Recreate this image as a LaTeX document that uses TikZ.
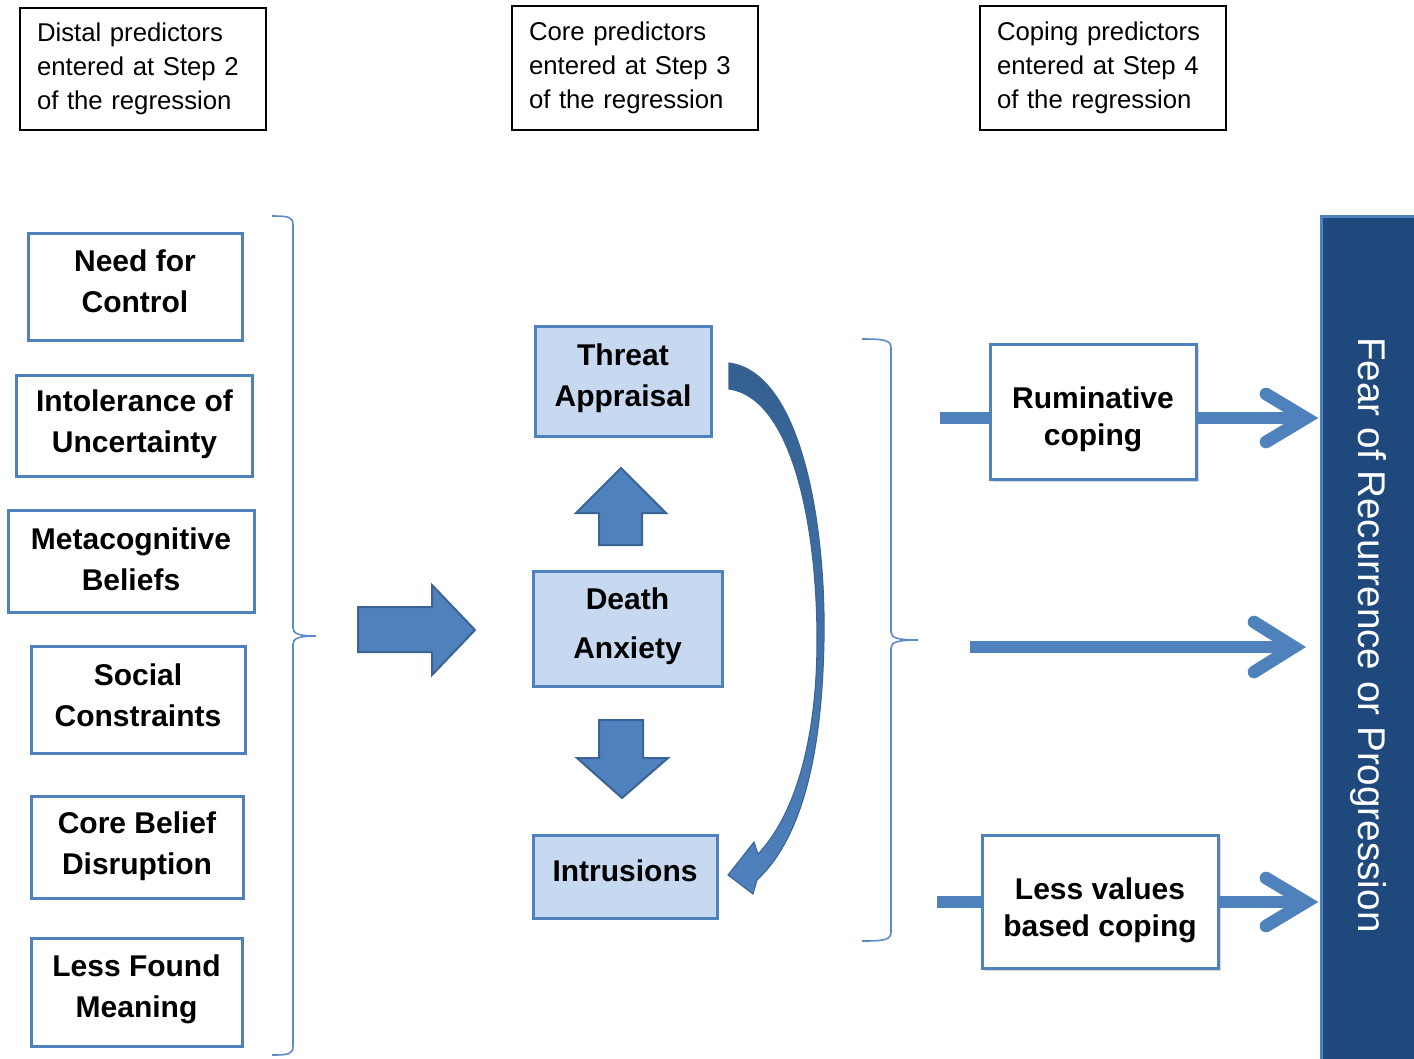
\documentclass[tikz,border=0pt]{standalone}
\usepackage{fontspec}
\setmainfont{Liberation Sans}
\usetikzlibrary{shadows,calc}
\definecolor{bluB}{HTML}{4F81BD}
\definecolor{lightB}{HTML}{C6D9F1}
\definecolor{barB}{HTML}{1F497D}
\definecolor{arrB}{HTML}{3A6496}
\definecolor{curvTop}{HTML}{33608F}
\definecolor{curvBot}{HTML}{4F81BD}
\definecolor{braceB}{HTML}{5B8CC8}
\begin{document}
\begin{tikzpicture}[x=0.75pt,y=-0.75pt,
  topbox/.style={draw=black, line width=1.1pt, fill=white, text width=159pt,
    inner xsep=12.75pt, inner ysep=0pt, align=left,
    font=\fontsize{19.3}{25.5}\selectfont},
  pbox/.style={draw=bluB, line width=2.25pt, fill=white, inner sep=0pt},
  ptext/.style={align=center, inner sep=0pt, font=\fontsize{22.5}{30.75}\selectfont\bfseries},
  cbox/.style={pbox, fill=lightB},
  rbox/.style={pbox, drop shadow={opacity=0.3, shadow xshift=2.5pt, shadow yshift=-2.5pt}},
  rtext/.style={ptext, font=\fontsize{22.5}{27.75}\selectfont\bfseries},
  brace/.style={draw=braceB, line width=1.2pt},
  barrow/.style={fill=bluB, draw=arrB, line width=1.5pt, line join=miter},
  flow/.style={draw=bluB, line width=9.5pt},
  chev/.style={draw=bluB, line width=9.5pt, line cap=round, line join=miter}
]
\useasboundingbox (0,0) rectangle (1414,1058);

% top boxes
\node[topbox, minimum height=91.5pt] (t1) at (143,69)
  {Distal predictors\\entered at Step 2\\of the regression};
\node[topbox, minimum height=93pt] (t2) at (635,68)
  {Core predictors\\entered at Step 3\\of the regression};
\node[topbox, minimum height=93pt] (t3) at (1103,68)
  {Coping predictors\\entered at Step 4\\of the regression};

% left boxes
\node[pbox, minimum width=160.5pt, minimum height=80.25pt] (nfc) at (135,286.5) {};
\node[ptext] (nfcT) at (135,281.5) {Need for\\Control};
\node[pbox, minimum width=177pt, minimum height=75.75pt] (iou) at (134,425.5) {};
\node[ptext] (iouT) at (134.5,424.5) {Intolerance of\\Uncertainty};
\node[pbox, minimum width=184.5pt, minimum height=76.5pt] (mcb) at (131,561) {};
\node[ptext] (mcbT) at (131,559) {Metacognitive\\Beliefs};
\node[pbox, minimum width=160.5pt, minimum height=80.25pt] (soc) at (138,699.5) {};
\node[ptext] (socT) at (138,695.5) {Social\\Constraints};
\node[pbox, minimum width=159pt, minimum height=76.5pt] (cbd) at (137,847) {};
\node[ptext] (cbdT) at (137,846.5) {Core Belief\\Disruption};
\node[pbox, minimum width=158.25pt, minimum height=81pt] (lfm) at (136.5,992) {};
\node[ptext] (lfmT) at (136.5,989.5) {Less Found\\Meaning};

% brace 1
\draw[brace] (272,216) .. controls (289,216) and (293,217) .. (293,225)
  -- (293,628) .. controls (293,634) and (300,636) .. (316,636)
  .. controls (300,636) and (293,638) .. (293,644)
  -- (293,1046) .. controls (293,1054) and (289,1055) .. (272,1055);

% big right block arrow
\draw[barrow] (358,607) -- (432,607) -- (432,585) -- (475,630) -- (432,675) -- (432,652) -- (358,652) -- cycle;

% middle boxes
\node[cbox, minimum width=132pt, minimum height=82.5pt] (ta) at (623,381) {};
\node[ptext] (taT) at (623,378) {Threat\\Appraisal};
\node[cbox, minimum width=141.75pt, minimum height=86.25pt] (da) at (627.5,628.5) {};
\node[ptext, font=\fontsize{22.5}{36.75}\selectfont\bfseries] (daT) at (627.5,626.5) {Death\\Anxiety};
\node[cbox, minimum width=138pt, minimum height=62.25pt] (intr) at (625,876.5) {};
\node[ptext] (intrT) at (625,870.5) {Intrusions};

% up and down block arrows
\draw[barrow] (599,545) -- (599,513) -- (576,513) -- (621,468) -- (666,513) -- (642,513) -- (642,545) -- cycle;
\draw[barrow] (599,720) -- (643,720) -- (643,758) -- (668,758) -- (622,798) -- (577,758) -- (599,758) -- cycle;

% curved arrow from Threat Appraisal to Intrusions
\path[draw=arrB, line width=0.8pt, top color=curvTop, bottom color=curvBot]
  (729,363) .. controls (800,372) and (826,520) .. (824,640)
  .. controls (822,760) and (800,840) .. (757,880)
  -- (753,894) -- (728,875) -- (754,842) -- (758,854)
  .. controls (795,815) and (817,740) .. (817,640)
  .. controls (817,525) and (792,398) .. (729,389) -- cycle;

% brace 2
\draw[brace] (862,339) .. controls (884,339) and (891,340) .. (891,348)
  -- (891,632) .. controls (891,638) and (898,640) .. (918,640)
  .. controls (898,640) and (891,642) .. (891,648)
  -- (891,932) .. controls (891,940) and (884,941) .. (862,941);

% outcome bar
\node[fill=barB, draw=bluB, line width=2.25pt, minimum width=82.5pt, minimum height=641.25pt,
  anchor=north west, inner sep=0pt] (fear) at (1320,215) {};
\node[rotate=-90, text=white, font=\fontsize{29}{35}\selectfont] (feartxt) at (1368,635)
  {Fear of Recurrence or Progression};

% right boxes
\node[rbox, minimum width=154.5pt, minimum height=101.25pt] (rum) at (1093,411.5) {};
\node[rtext] (rumT) at (1093,419.5) {Ruminative\\coping};
\node[rbox, minimum width=177pt, minimum height=99.75pt] (lvc) at (1100,901.5) {};
\node[rtext] (lvcT) at (1100,910.5) {Less values\\based coping};

% right connectors
\coordinate (r0) at (940,418);
\coordinate (rtip) at (1306,418);
\draw[flow] (r0) -- (r0 -| rum.west);
\draw[flow] (r0 -| rum.east) -- ($(rtip)+(-4,0)$);
\draw[chev] ($(rtip)+(-40,-24)$) -- (rtip) -- ($(rtip)+(-40,24)$);

\coordinate (m0) at (970,647);
\coordinate (mtip) at (1294,647);
\draw[flow] (m0) -- ($(mtip)+(-4,0)$);
\draw[chev] ($(mtip)+(-40,-25)$) -- (mtip) -- ($(mtip)+(-40,25)$);

\coordinate (l0) at (937,902);
\coordinate (ltip) at (1306,902);
\draw[flow] (l0) -- (l0 -| lvc.west);
\draw[flow] (l0 -| lvc.east) -- ($(ltip)+(-4,0)$);
\draw[chev] ($(ltip)+(-40,-24)$) -- (ltip) -- ($(ltip)+(-40,24)$);
\end{tikzpicture}
\end{document}
